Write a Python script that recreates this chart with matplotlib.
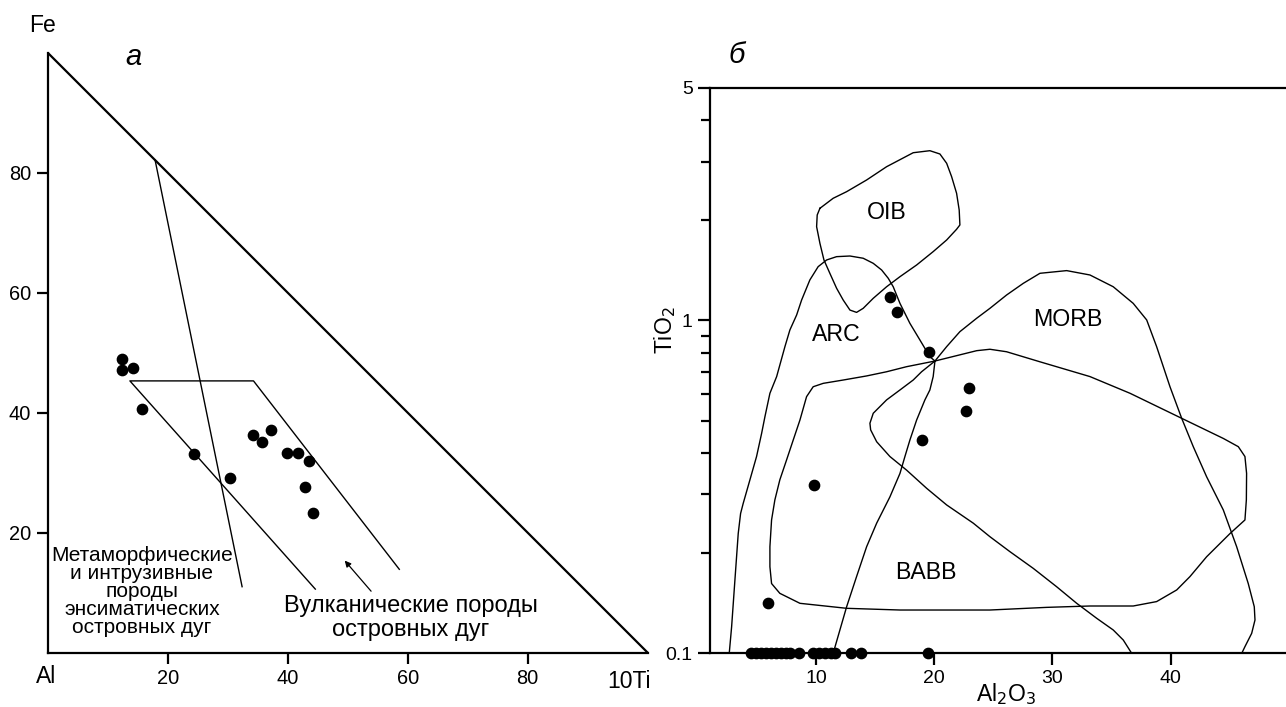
import matplotlib
matplotlib.use("Agg")
import matplotlib.pyplot as plt
from matplotlib import font_manager
from matplotlib.ticker import FixedLocator, NullFormatter

plt.rcParams['font.family'] = ['Liberation Sans', 'DejaVu Sans']

# --- panel a: Al - Fe - 10Ti (right-angle ternary) ---
tern_al10ti = [12.4, 12.4, 14.2, 15.7, 24.4, 30.3, 34.2, 35.7, 37.2, 39.9, 41.7, 43.6, 42.9, 44.3]
tern_fe = [48.9, 47.1, 47.4, 40.7, 33.1, 29.2, 36.3, 35.1, 37.1, 33.3, 33.3, 31.9, 27.7, 23.3]

# field boundaries (x = 10Ti axis, y = Fe axis)
div_line_x = [17.9, 32.4]
div_line_y = [82.1, 11.0]
volc_x = [58.6, 34.3, 13.7, 44.6]
volc_y = [13.9, 45.3, 45.3, 10.6]
tern_ticks = [20, 40, 60, 80]

# --- panel b: TiO2 vs Al2O3 ---
al2o3 = [16.26, 16.88, 19.59, 22.97, 22.70, 19.0, 9.86, 5.96,
         4.50, 4.92, 5.34, 5.77, 6.19, 6.62, 7.04, 7.46, 7.80, 8.56,
         9.75, 10.25, 10.76, 11.27, 11.61, 12.94, 13.81, 19.45]
tio2 = [1.179, 1.062, 0.805, 0.628, 0.534, 0.436, 0.320, 0.142,
        0.1, 0.1, 0.1, 0.1, 0.1, 0.1, 0.1, 0.1, 0.1, 0.1,
        0.1, 0.1, 0.1, 0.1, 0.1, 0.1, 0.1, 0.1]

oib_x = [10.34, 11.46, 12.60, 14.29, 15.98, 18.23, 19.64, 20.49, 21.06, 21.48,
         21.90, 22.12, 22.18, 21.90, 21.06, 19.92, 18.52, 17.11, 15.98, 14.85,
         14.00, 13.44, 12.88, 12.31, 11.75, 11.18, 10.68, 10.34, 10.06, 10.11, 10.34]
oib_y = [2.171, 2.327, 2.436, 2.641, 2.895, 3.189, 3.234, 3.161, 2.964, 2.702,
         2.409, 2.146, 1.935, 1.878, 1.744, 1.609, 1.467, 1.353, 1.262, 1.165,
         1.087, 1.057, 1.074, 1.151, 1.249, 1.385, 1.519, 1.704, 1.912, 2.073, 2.171]

arc_x = [2.67, 2.87, 3.15, 3.43, 3.63, 3.85, 4.42, 4.98, 5.41, 5.69, 6.11, 6.68,
         7.38, 7.80, 8.37, 8.79, 9.49, 10.19, 10.91, 11.75, 12.88, 14.00, 14.85,
         15.56, 16.12, 16.54, 17.11, 17.95, 18.80, 19.64, 20.07, 19.92, 19.64,
         19.22, 18.52, 17.95, 17.53, 17.11, 16.26, 15.14, 14.29, 13.44, 12.60,
         12.03, 11.46]
arc_y = [0.1, 0.120, 0.166, 0.229, 0.263, 0.282, 0.332, 0.390, 0.458, 0.514,
         0.604, 0.678, 0.834, 0.936, 1.038, 1.151, 1.323, 1.450, 1.519, 1.554,
         1.561, 1.537, 1.484, 1.417, 1.338, 1.262, 1.125, 0.980, 0.873, 0.778,
         0.755, 0.678, 0.618, 0.577, 0.502, 0.437, 0.390, 0.347, 0.295, 0.246,
         0.209, 0.170, 0.138, 0.1175, 0.1]

morb_x = [36.71, 36.00, 35.15, 33.75, 32.06, 30.36, 28.38, 26.41, 24.72, 23.31,
          21.06, 19.37, 17.67, 16.26, 15.14, 14.63, 14.57, 14.85, 15.98, 17.11,
          18.23, 18.94, 20.07, 21.06, 22.18, 23.60, 24.72, 26.13, 27.54, 28.95,
          31.21, 33.18, 35.15, 36.84, 37.98, 38.82, 39.95, 40.94, 41.92, 43.05,
          44.46, 45.59, 46.57, 47.08, 47.14, 46.86, 46.29, 46.02]
morb_y = [0.1, 0.1096, 0.1175, 0.1274, 0.1413, 0.1585, 0.180, 0.202, 0.224, 0.246,
          0.279, 0.313, 0.355, 0.390, 0.432, 0.469, 0.491, 0.526, 0.577, 0.618,
          0.662, 0.701, 0.755, 0.834, 0.925, 1.015, 1.087, 1.192, 1.292, 1.385,
          1.411, 1.369, 1.262, 1.125, 1.003, 0.834, 0.632, 0.508, 0.4175, 0.339,
          0.2695, 0.209, 0.162, 0.138, 0.1259, 0.1148, 0.1047, 0.1]

babb_x = [20.07, 23.60, 24.72, 26.13, 28.95, 33.18, 36.57, 40.94, 44.46, 45.73,
          46.29, 46.43, 46.41, 46.29, 45.03, 43.05, 41.64, 40.52, 38.82, 36.84,
          33.18, 29.52, 24.72, 17.11, 12.60, 8.65, 6.95, 6.25, 6.11, 6.11, 6.25,
          6.53, 6.95, 7.52, 8.08, 8.65, 9.21, 9.77, 10.62, 12.31, 14.29, 15.98,
          17.67, 20.07]
babb_y = [0.755, 0.811, 0.819, 0.805, 0.751, 0.678, 0.604, 0.508, 0.442, 0.4175,
          0.390, 0.347, 0.289, 0.2515, 0.229, 0.195, 0.170, 0.155, 0.143, 0.1387,
          0.1387, 0.1374, 0.1349, 0.1349, 0.1365, 0.1413, 0.1514, 0.162, 0.182,
          0.209, 0.2515, 0.289, 0.332, 0.381, 0.437, 0.502, 0.590, 0.632, 0.647,
          0.662, 0.681, 0.701, 0.726, 0.755]

field_names = ['OIB', 'ARC', 'MORB', 'BABB']
field_label_x = [15.98, 11.69, 31.35, 19.31]
field_label_y = [2.107, 0.910, 1.003, 0.175]


def narrow_family():
    # condensed face for the long Russian caption, if it is installed
    try:
        font_manager.findfont('Liberation Sans Narrow', fallback_to_default=False)
        return 'Liberation Sans Narrow', 16, 0.88
    except ValueError:
        return 'Liberation Sans', 15, 0.94


def draw_ternary(ax):
    ax.set_xlim(0, 100)
    ax.set_ylim(0, 100)
    for side in ['top', 'right']:
        ax.spines[side].set_visible(False)
    for side in ['left', 'bottom']:
        ax.spines[side].set_linewidth(1.6)
    ax.plot([0, 100], [100, 0], color='black', lw=1.6, clip_on=False, solid_capstyle='butt')

    ax.set_xticks(tern_ticks)
    ax.set_yticks(tern_ticks)
    ax.tick_params(direction='out', length=8, width=1.6, labelsize=14.4, pad=4)

    ax.plot(div_line_x, div_line_y, color='black', lw=1.0)
    ax.plot(volc_x, volc_y, color='black', lw=1.0)
    ax.scatter(tern_al10ti, tern_fe, s=55, color='black', zorder=5, clip_on=False)

    ax.annotate('', xy=(49.2, 15.7), xytext=(54.2, 9.9),
                arrowprops=dict(arrowstyle='-|>', color='black', lw=0.9, mutation_scale=9))

    ax.text(-0.9, 104.6, 'Fe', fontsize=16.5, ha='center', va='center', clip_on=False)
    ax.text(-0.2, -3.9, 'Al', fontsize=16.5, ha='center', va='center', clip_on=False)
    ax.text(96.9, -4.8, '10Ti', fontsize=16.5, ha='center', va='center', clip_on=False)
    ax.text(14.3, 99.3, 'а', fontsize=21, style='italic', ha='center', va='center')

    fam, fsize, lsp = narrow_family()
    ax.text(15.7, 10.2, 'Метаморфические\nи интрузивные\nпороды\nэнсиматических\nостровных дуг',
            fontsize=fsize, family=fam, ha='center', va='center', linespacing=lsp)
    ax.text(60.5, 5.8, 'Вулканические породы\nостровных дуг',
            fontsize=17, ha='center', va='center', linespacing=1.1)


def draw_tio2(ax):
    ax.set_yscale('log')
    ax.set_xlim(1, 50)
    ax.set_ylim(0.1, 5)
    ax.spines['right'].set_visible(False)
    for side in ['left', 'top', 'bottom']:
        ax.spines[side].set_linewidth(1.6)

    ax.yaxis.set_major_locator(FixedLocator([0.1, 1, 5]))
    ax.set_yticklabels(['0.1', '1', '5'])
    ax.yaxis.set_minor_locator(FixedLocator([0.2, 0.3, 0.4, 0.5, 0.6, 0.7, 0.8, 0.9, 2, 3, 4]))
    ax.yaxis.set_minor_formatter(NullFormatter())
    ax.set_xticks([10, 20, 30, 40])
    ax.tick_params(axis='both', which='major', direction='out', length=8.5, width=1.6,
                   labelsize=14, pad=3.5)
    ax.tick_params(axis='y', which='minor', direction='out', length=6.5, width=1.6)

    for fx, fy in [(oib_x, oib_y), (arc_x, arc_y), (morb_x, morb_y), (babb_x, babb_y)]:
        ax.plot(fx, fy, color='black', lw=1.0)
    for name, lx, ly in zip(field_names, field_label_x, field_label_y):
        ax.text(lx, ly, name, fontsize=16.7, ha='center', va='center')

    ax.scatter(al2o3, tio2, s=55, color='black', zorder=5, clip_on=False)

    ax.set_xlabel('Al$_2$O$_3$', fontsize=16.5)
    ax.xaxis.set_label_coords(0.512, -0.05)
    ax.set_ylabel('TiO$_2$', fontsize=16.5)
    ax.yaxis.set_label_coords(-0.054, 0.572)


def main():
    fig = plt.figure(figsize=(12.86, 7.07), dpi=100)
    ax_a = fig.add_axes([47.7 / 1286, 1 - 652.7 / 707, 600 / 1286, 600 / 707])
    ax_b = fig.add_axes([709.5 / 1286, 1 - 653.3 / 707, 579.3 / 1286, 565.6 / 707])

    draw_ternary(ax_a)
    draw_tio2(ax_b)
    fig.text(737 / 1286, 1 - 55 / 707, 'б', fontsize=21, style='italic', ha='center', va='center')

    fig.savefig('out.png', dpi=100)


if __name__ == "__main__":
    main()
